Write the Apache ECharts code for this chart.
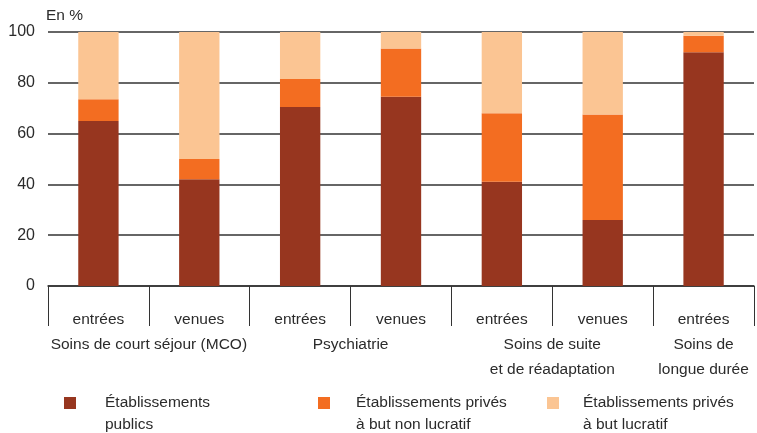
<!DOCTYPE html>
<html>
<head>
<meta charset="utf-8">
<script src="https://cdn.jsdelivr.net/npm/echarts@6/dist/echarts.min.js"></script>
<style>html,body{margin:0;padding:0;background:#fff}#c{width:757px;height:433px}</style>
</head>
<body>
<div id="c"></div>
<script>
var categories = ['entrées', 'venues', 'entrées', 'venues', 'entrées', 'venues', 'entrées'];
var groupLabels = ['Soins de court séjour (MCO)', 'Psychiatrie', 'Soins de suite\net de réadaptation', 'Soins de\nlongue durée'];
var groupPositions = [1, 3, 5, 6.5];
var publics = [65, 42, 70.5, 74.5, 41, 26, 92];
var nonLucratif = [8.5, 8, 11, 19, 27, 41.5, 6.5];
var lucratif = [26.5, 50, 18.5, 6.5, 32, 32.5, 1.5];
var seriesNames = ['Établissements\npublics', 'Établissements privés\nà but non lucratif', 'Établissements privés\nà but lucratif'];
var colors = ['#97361F', '#F36D21', '#FBC593'];

var FONT = 'Liberation Sans, Arial, sans-serif';
var FS = 15.5;
var TXT = '#2b2b2b';
var chart = echarts.init(document.getElementById('c'), null, {renderer: 'canvas'});

// square drawn at the top of a taller icon box so it lines up with the first text line
var ICON = 'path://M0,0h10v10h-10z M0,28.3333';

function legendAt(i, left, gap) {
  return {
    data: [seriesNames[i]],
    left: left, top: 392,
    orient: 'horizontal',
    padding: 0,
    itemWidth: 12, itemHeight: 34,
    itemGap: 0,
    icon: ICON,
    selectedMode: false,
    textStyle: {fontFamily: FONT, fontSize: FS, color: TXT, lineHeight: 22, padding: [0, 0, 0, gap]}
  };
}

var option = {
  animation: false,
  backgroundColor: '#fff',
  color: colors,
  textStyle: {fontFamily: FONT},
  grid: {left: 48, right: 0, top: 32, bottom: 147, containLabel: false},
  legend: [legendAt(0, 64, 24), legendAt(1, 318, 21), legendAt(2, 547, 19)],
  xAxis: [{
    type: 'category',
    data: categories,
    boundaryGap: true,
    axisLine: {show: true, lineStyle: {color: '#333', width: 1.5}},
    axisTick: {show: true, interval: 0, length: 40, alignWithLabel: false, lineStyle: {color: '#333', width: 1}},
    axisLabel: {interval: 0, margin: 26, fontSize: FS, color: TXT, fontFamily: FONT},
    splitLine: {show: false}
  }, {
    type: 'value',
    position: 'bottom',
    min: 0, max: 7, interval: 0.5,
    axisLine: {show: false}, axisTick: {show: false}, splitLine: {show: false},
    axisLabel: {
      show: true, margin: 46, fontSize: FS, lineHeight: 25, color: TXT, fontFamily: FONT,
      showMinLabel: true, showMaxLabel: true,
      formatter: function (v) {
        var k = groupPositions.indexOf(v);
        return k >= 0 ? groupLabels[k] : '';
      }
    }
  }],
  yAxis: {
    type: 'value',
    min: 0, max: 100, interval: 20,
    name: 'En %',
    nameLocation: 'end',
    nameGap: 8,
    nameTextStyle: {align: 'left', fontSize: FS, color: TXT, fontFamily: FONT, padding: [0, 0, 0, -2]},
    axisLine: {show: false},
    axisTick: {show: false},
    axisLabel: {margin: 13, fontSize: 16, color: TXT, fontFamily: FONT},
    splitLine: {show: true, lineStyle: {color: '#333', width: 1.5}}
  },
  series: [
    {name: seriesNames[0], type: 'bar', stack: 't', data: publics, barWidth: '40%', itemStyle: {color: colors[0]}},
    {name: seriesNames[1], type: 'bar', stack: 't', data: nonLucratif, barWidth: '40%', itemStyle: {color: colors[1]}},
    {name: seriesNames[2], type: 'bar', stack: 't', data: lucratif, barWidth: '40%', itemStyle: {color: colors[2]}}
  ]
};
chart.setOption(option);
</script>
</body>
</html>
